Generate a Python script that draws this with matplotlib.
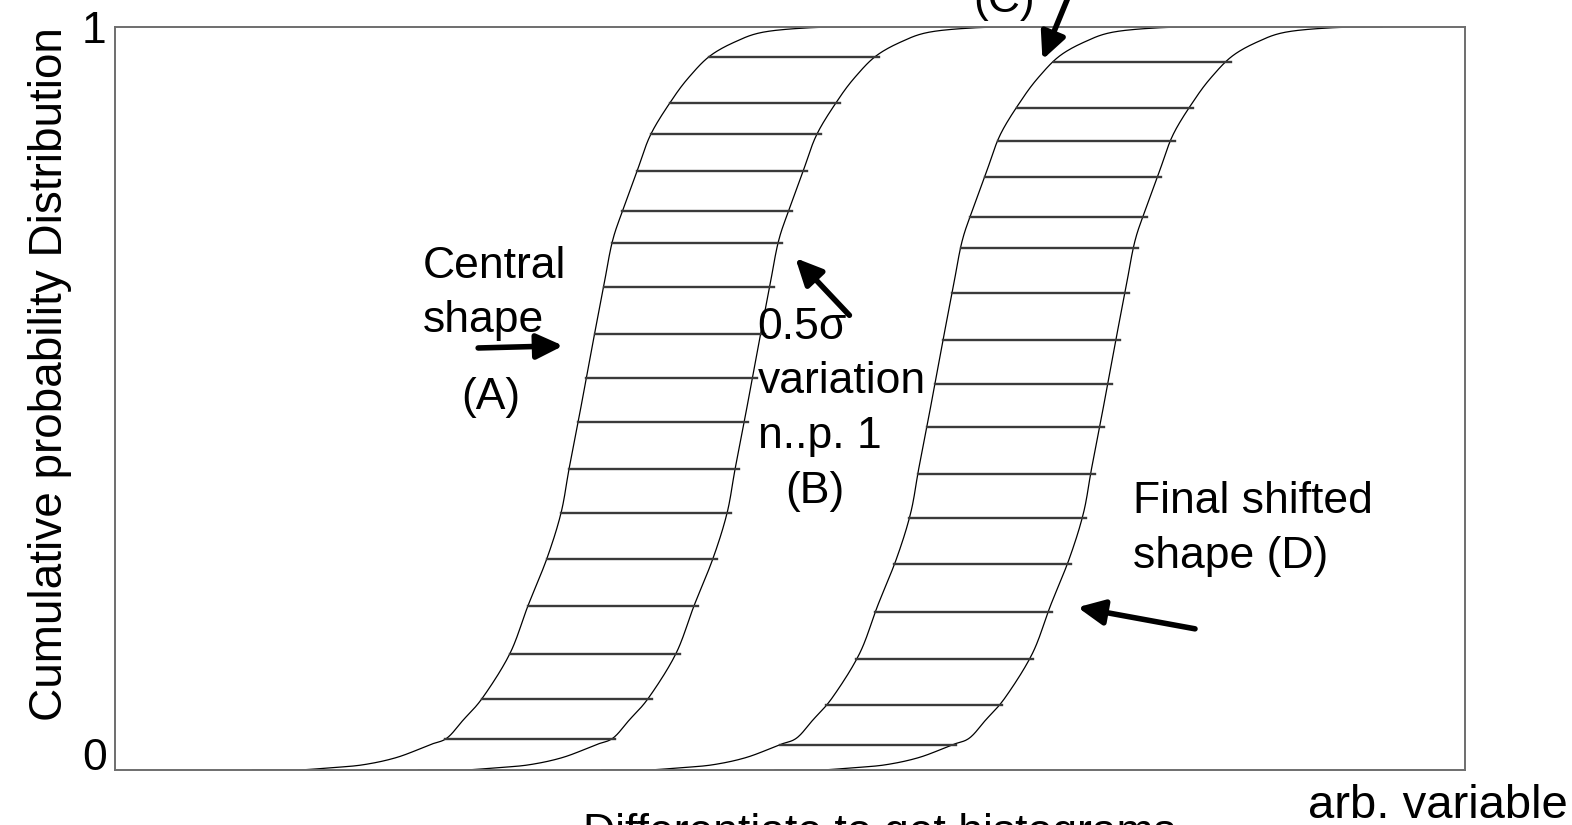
import numpy as np
import matplotlib.pyplot as plt

plt.rcParams['font.family'] = ['Liberation Sans', 'DejaVu Sans']

# shape of the central cumulative curve (A)
shape_x = [10.15, 13.48, 15.93, 18.37, 20.89, 23.33, 24.59, 25.78, 27.26, 29.26,
           30.59, 32.00, 33.04, 33.63, 34.30, 34.89, 35.48, 36.15, 36.81, 37.56,
           38.67, 39.70, 41.33, 42.59, 44.07, 45.93, 48.00, 51.48, 55.19]
shape_y = [0.0, 0.0, 0.003, 0.007, 0.017, 0.034, 0.043, 0.067, 0.098, 0.157,
           0.221, 0.285, 0.346, 0.405, 0.468, 0.525, 0.583, 0.646, 0.709, 0.751,
           0.806, 0.856, 0.904, 0.934, 0.961, 0.980, 0.993, 0.999, 1.0]

# horizontal offsets of the curves A, B, C, D
curve_names = ['A', 'B', 'C', 'D']
curve_shift = [0.0, 12.3, 25.9, 38.7]

# levels of the horizontal hatching between A-B and C-D
hatch_ab = [0.960, 0.898, 0.856, 0.806, 0.752, 0.709, 0.650, 0.587, 0.528,
            0.468, 0.405, 0.346, 0.284, 0.221, 0.156, 0.096, 0.042]
hatch_cd = [0.953, 0.891, 0.847, 0.798, 0.744, 0.703, 0.642, 0.579, 0.520,
            0.462, 0.398, 0.339, 0.277, 0.213, 0.149, 0.087, 0.034]

y_ticks = [0, 1]
y_ticklabels = ['0', '1']


def smooth(x, y, n=20):
    """Catmull-Rom through the read points so the curve is not jagged."""
    p = np.column_stack([x, y])
    p = np.vstack([p[0], p, p[-1]])
    t = np.linspace(0, 1, n, endpoint=False)[:, None]
    out = []
    for i in range(1, len(p) - 2):
        p0, p1, p2, p3 = p[i - 1], p[i], p[i + 1], p[i + 2]
        seg = 0.5 * (2 * p1 + (-p0 + p2) * t
                     + (2 * p0 - 5 * p1 + 4 * p2 - p3) * t ** 2
                     + (-p0 + 3 * p1 - 3 * p2 + p3) * t ** 3)
        out.append(seg)
    out.append(p[-2][None])
    out = np.vstack(out)
    return out[:, 0], out[:, 1]


fig = plt.figure(figsize=(15.72, 8.25), dpi=100)
ax = fig.add_axes([115 / 1572, 55 / 825, 1350 / 1572, 743 / 825])

sx, sy = smooth(shape_x, shape_y)
for shift in curve_shift:
    ax.plot(sx + shift, sy, color='black', lw=0.9, solid_capstyle='round')

# hatching
for levels, left, right in [(hatch_ab, 0, 1), (hatch_cd, 2, 3)]:
    for yh in levels:
        x0 = np.interp(yh, shape_y, shape_x) + curve_shift[left]
        x1 = np.interp(yh, shape_y, shape_x) + curve_shift[right] + 0.3
        ax.plot([x0, x1], [yh, yh], color='#3a3a3a', lw=1.7)

ax.set_xlim(0, 100)
ax.set_ylim(0, 1)
ax.set_xticks([])
ax.set_yticks(y_ticks, y_ticklabels, fontsize=32)
ax.tick_params(axis='y', length=0, pad=6)
for lab in ax.get_yticklabels():
    if lab.get_text() == '0':
        lab.set_verticalalignment('baseline')
for s in ax.spines.values():
    s.set_color('#6e6e6e')
    s.set_linewidth(1.4)

fs = 32
arrow = dict(arrowstyle='-|>,head_length=0.8,head_width=0.38', lw=4,
             color='black', shrinkA=0, shrinkB=0, mutation_scale=20)

# (A)
ax.text(22.8, 0.662, 'Central', fontsize=fs, va='baseline')
ax.text(22.8, 0.590, 'shape', fontsize=fs, va='baseline')
ax.text(27.85, 0.486, '(A)', fontsize=fs, va='baseline', ha='center')
ax.annotate('', xy=(33.2, 0.571), xytext=(26.9, 0.568), arrowprops=arrow)

# (B)
ax.text(47.6, 0.580, '0.5σ', fontsize=fs, va='baseline')
ax.text(47.6, 0.507, 'variation', fontsize=fs, va='baseline')
ax.text(47.6, 0.433, 'n..p. 1', fontsize=fs, va='baseline')
ax.text(51.85, 0.359, '(B)', fontsize=fs, va='baseline', ha='center')
ax.annotate('', xy=(50.4, 0.689), xytext=(54.4, 0.612), arrowprops=arrow)

# (C) - sits above the frame
ax.text(65.85, 1.020, '(C)', fontsize=fs, va='baseline', ha='center', clip_on=False)
ax.annotate('', xy=(68.7, 0.956), xytext=(70.6, 1.04), arrowprops=arrow,
            annotation_clip=False)

# (D)
ax.text(75.4, 0.346, 'Final shifted', fontsize=fs, va='baseline')
ax.text(75.4, 0.272, 'shape (D)', fontsize=fs, va='baseline')
ax.annotate('', xy=(71.3, 0.219), xytext=(80.0, 0.190), arrowprops=arrow)

fig.text(62 / 1572, 1 - 374 / 825, 'Cumulative probability Distribution',
         fontsize=33, rotation=90, rotation_mode='anchor',
         ha='center', va='baseline')
fig.text(1568 / 1572, 1 - 818 / 825, 'arb. variable', fontsize=34,
         ha='right', va='baseline')
fig.text(583 / 1572, 1 - 845 / 825, 'Differentiate to get histograms',
         fontsize=fs, ha='left', va='baseline')

fig.savefig('out.png', dpi=100)
